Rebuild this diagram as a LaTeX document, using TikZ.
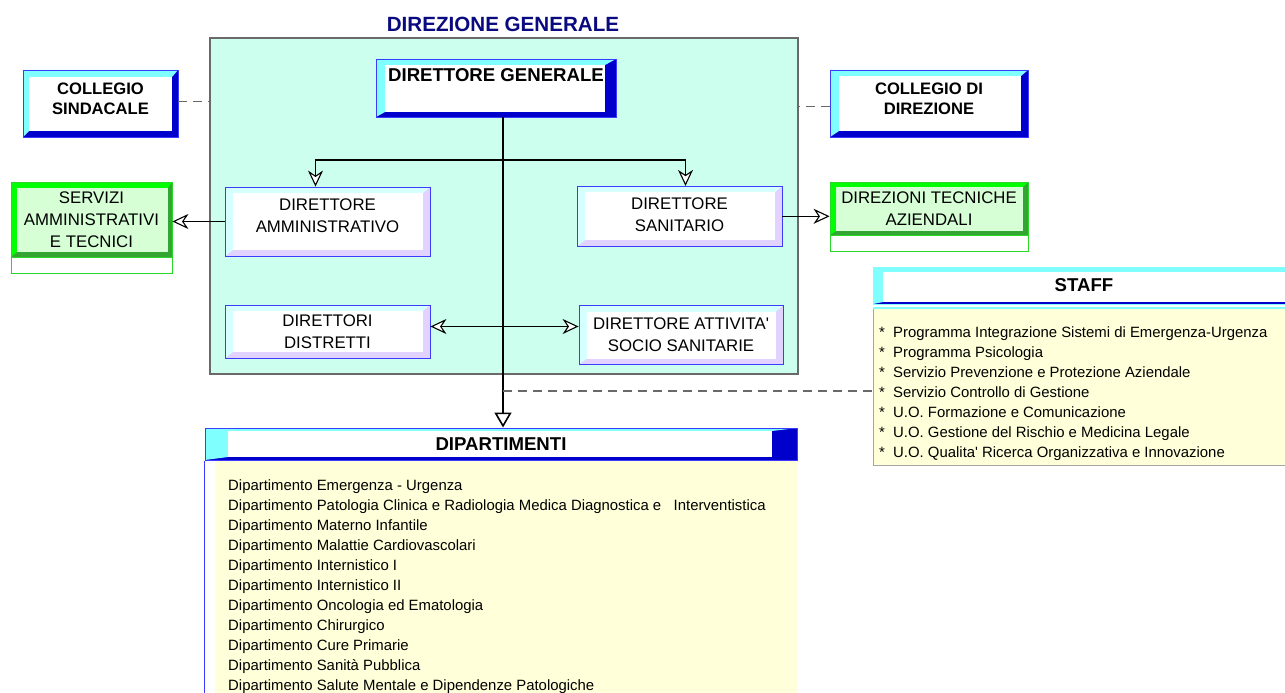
\documentclass[tikz,border=0pt]{standalone}
\usepackage{fontspec}
\setmainfont{Liberation Sans}
\usetikzlibrary{arrows.meta,positioning,calc}

\definecolor{mint}{RGB}{204,255,238}
\definecolor{boxgray}{RGB}{105,105,105}
\definecolor{navy}{RGB}{10,10,128}
\definecolor{lcyan}{RGB}{128,255,255}
\definecolor{pcyan}{RGB}{214,255,255}
\definecolor{dblue}{RGB}{0,0,204}
\definecolor{eblue}{RGB}{60,60,255}
\definecolor{lavender}{RGB}{226,210,255}
\definecolor{lgreen}{RGB}{0,255,0}
\definecolor{dgreen}{RGB}{50,165,50}
\definecolor{fgreen}{RGB}{214,255,214}
\definecolor{egreen}{RGB}{40,215,40}
\definecolor{cream}{RGB}{255,255,218}

\newcommand{\titlefont}{\fontsize{20.6}{24}\selectfont\bfseries}
\newcommand{\headfont}{\fontsize{18.6}{22}\selectfont\bfseries}
\newcommand{\collfont}{\fontsize{16.6}{20}\selectfont\bfseries}
\newcommand{\boxfont}{\fontsize{16.8}{22}\selectfont}
\newcommand{\listfont}{\fontsize{14.9}{20}\selectfont}

\tikzset{
  bevel/.style n args={7}{fill=#2, inner sep=0pt, align=center,
    path picture={
      \fill[#1] (path picture bounding box.north west) -- (path picture bounding box.north east)
        -- ([shift={(-#6,#5)}]path picture bounding box.north east)
        -- ([shift={(#4,-#7)}]path picture bounding box.south west)
        -- (path picture bounding box.south west) -- cycle;
      \fill[#3] ([shift={(#4,#5)}]path picture bounding box.north west)
        rectangle ([shift={(-#6,-#7)}]path picture bounding box.south east);
    }},
  bluebox/.style n args={4}{bevel={lcyan}{dblue}{white}{#1}{#2}{#3}{#4},
    draw=eblue, line width=0.8pt, font=\collfont},
  greenbox/.style n args={4}{bevel={lgreen}{dgreen}{fgreen}{#1}{#2}{#3}{#4},
    draw=egreen, line width=0.8pt, font=\boxfont},
  palebox/.style={bevel={pcyan}{lavender}{white}{8}{6}{7}{6},
    draw=eblue, line width=0.8pt, font=\boxfont},
  foot/.style={draw=egreen, line width=0.8pt, inner sep=0pt},
  link/.style={draw, line width=1.1pt},
  mainline/.style={draw, line width=2.6pt, -{Triangle[length=15pt,width=17pt,fill=white,line width=1.6pt]}},
  dashlink/.style={draw=boxgray, line width=1.1pt, dash pattern=on 9pt off 6pt},
  >={Stealth[length=16pt,width=15pt,inset=5pt,fill=white]}
}

\begin{document}
\begin{tikzpicture}[x=1pt,y=-1pt]
\useasboundingbox (0,0) rectangle (1285,693);

\node[draw=boxgray, line width=1.6pt, fill=mint, minimum width=588pt, minimum height=336pt, inner sep=0pt] (dirgen) at (504,206) {};
\node[text=navy, font=\titlefont] (title) at (503,24) {DIREZIONE GENERALE};

\node[bluebox={9}{6}{11}{5}, minimum width=240pt, minimum height=58pt,
  label={[font=\headfont, anchor=north, inner sep=0pt, yshift=-10pt]north:DIRETTORE GENERALE}] (dg) at (496,88) {};
\node[bluebox={6}{7}{6}{6}, minimum width=155pt, minimum height=67pt, text depth=10pt] (csind) at (100.5,103.5) {COLLEGIO\\SINDACALE};
\node[bluebox={9}{6}{7}{6}, minimum width=198pt, minimum height=67pt, text depth=9pt] (cdir) at (929,103.5) {COLLEGIO DI\\DIREZIONE};

\node[greenbox={6}{6}{4}{5}, minimum width=161pt, minimum height=75pt] (serv) at (91.5,219.5) {SERVIZI\\AMMINISTRATIVI\\E TECNICI};
\node[foot, minimum width=161pt, minimum height=16pt, below=0pt of serv] (servfoot) {};
\node[greenbox={6}{5}{5}{4}, minimum width=198pt, minimum height=53pt] (dtec) at (929,208.5) {DIREZIONI TECNICHE\\AZIENDALI};
\node[foot, minimum width=198pt, minimum height=16pt, below=0pt of dtec] (dtecfoot) {};

\node[palebox, minimum width=205pt, minimum height=69pt, text depth=11pt] (dam) at (327.5,221.5) {DIRETTORE\\AMMINISTRATIVO};
\node[palebox, minimum width=205pt, minimum height=60pt, text depth=4pt] (dsan) at (679.5,216.3) {DIRETTORE\\SANITARIO};
\node[palebox, minimum width=205pt, minimum height=53pt] (ddis) at (327.5,331.5) {DIRETTORI\\DISTRETTI};
\node[palebox, minimum width=204pt, minimum height=59pt] (dass) at (681,335) {DIRETTORE ATTIVITA\textquotesingle\\SOCIO SANITARIE};

\node[bevel={lcyan}{dblue}{white}{10}{5}{0}{2}, draw=lcyan, line width=0.8pt, minimum width=422pt, minimum height=37pt, font=\headfont] (staffhead) at (1084,285.5) {STAFF};
\node[fill=cream, draw=boxgray!60, line width=0.8pt, minimum width=422pt, minimum height=157pt, inner sep=0pt, below=4pt of staffhead] (stafflist) {};
\draw[lcyan, line width=2pt] (stafflist.north west) -- (stafflist.north east);
\node[anchor=north west, font=\listfont, align=left, inner sep=0pt] (staffitems) at (879,326) {%
  \makebox[14pt][l]{*}Programma Integrazione Sistemi di Emergenza-Urgenza\\
  \makebox[14pt][l]{*}Programma Psicologia\\
  \makebox[14pt][l]{*}Servizio Prevenzione e Protezione Aziendale\\
  \makebox[14pt][l]{*}Servizio Controllo di Gestione\\
  \makebox[14pt][l]{*}U.O. Formazione e Comunicazione\\
  \makebox[14pt][l]{*}U.O. Gestione del Rischio e Medicina Legale\\
  \makebox[14pt][l]{*}U.O. Qualita\textquotesingle{} Ricerca Organizzativa e Innovazione};

\node[bevel={lcyan}{dblue}{white}{23}{3}{25}{3}, draw=eblue, line width=1pt, minimum width=592pt, minimum height=32pt, font=\headfont] (diphead) at (501,444) {DIPARTIMENTI};
\node[fill=cream, minimum width=582pt, minimum height=240pt, inner sep=0pt, anchor=north east] (diplist) at (diphead.south east) {};
\draw[eblue, line width=1pt] (diphead.south west) -- ++(0,240);
\node[anchor=north west, font=\listfont, align=left, inner sep=0pt] (depts) at (228,479) {%
  Dipartimento Emergenza - Urgenza\\
  Dipartimento Patologia Clinica e Radiologia Medica Diagnostica e\ \ \ Interventistica\\
  Dipartimento Materno Infantile\\
  Dipartimento Malattie Cardiovascolari\\
  Dipartimento Internistico I\\
  Dipartimento Internistico II\\
  Dipartimento Oncologia ed Ematologia\\
  Dipartimento Chirurgico\\
  Dipartimento Cure Primarie\\
  Dipartimento Sanità Pubblica\\
  Dipartimento Salute Mentale e Dipendenze Patologiche};

\coordinate (split) at (503,160);
\coordinate (tap) at (503,391);
\draw[mainline] (split |- dg.south) -- (split |- diphead.north);
\draw[link,<->] ([xshift=-12pt]dam.north) |- (split) -| ([xshift=6pt]dsan.north);
\draw[link,->] (dam.west) -- (dam.west -| serv.east);
\draw[link,->] (dsan.east) -- (dsan.east -| dtec.west);
\draw[link,<->] ([yshift=5pt]ddis.east) -- ([yshift=5pt]ddis.east -| dass.west);
\draw[dashlink] ([yshift=2pt]csind.east) -- ([yshift=2pt]csind.east -| dirgen.west);
\draw[dashlink] ([yshift=-3pt]cdir.west) -- ([yshift=-3pt]cdir.west -| dirgen.east);
\draw[dashlink] (tap) -- (tap -| stafflist.west);
\end{tikzpicture}
\end{document}
